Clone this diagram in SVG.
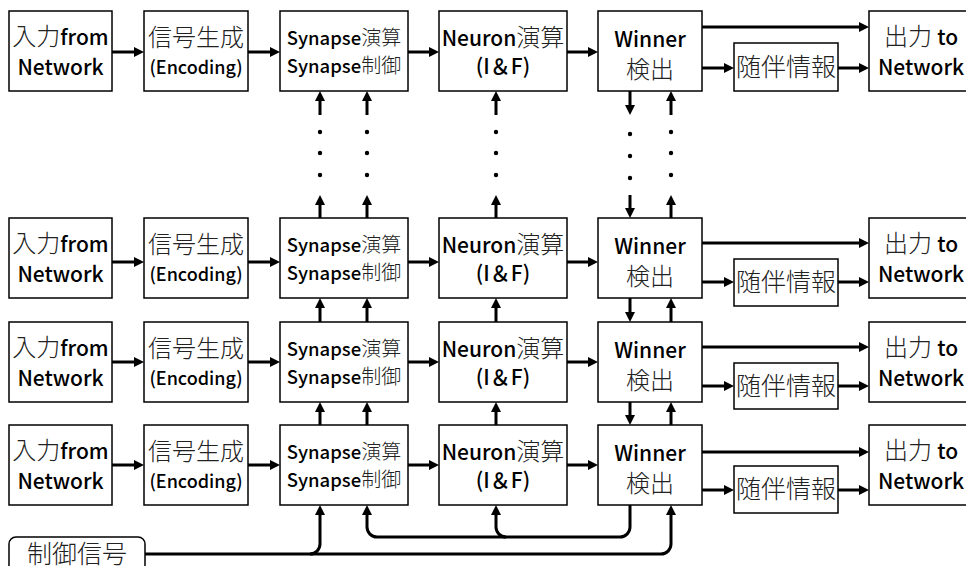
<svg xmlns="http://www.w3.org/2000/svg" width="966" height="566" viewBox="0 0 966 566">
  <defs>
    <marker id="ah" markerUnits="userSpaceOnUse" markerWidth="10" markerHeight="10" refX="3" refY="5" orient="auto">
      <path d="M0,0 L10,5 L0,10 z" fill="#000"/>
    </marker>
    <style>
      .box { fill: #fff; stroke: #000; stroke-width: 1.5; }
      .ln { fill: none; stroke: #000; stroke-width: 3; marker-end: url(#ah); }
      text { font-family: "Noto Sans CJK JP", "Noto Sans", sans-serif; text-anchor: middle; fill: #000; }
      .lat { font-weight: 500; }
      .cjk { font-weight: 300; fill: #222; }
      .syn { font-size: 18.5px; }
      .synj { font-size: 20px; }
      .dot { fill: #000; }
    </style>
  </defs>
  <rect width="966" height="566" fill="#fff"/>

  <!-- row 1 -->
  <g id="r1-input"><rect class="box" x="9" y="11" width="103" height="80"/>
    <text x="60.5" y="45"><tspan class="cjk" font-size="24">入力</tspan><tspan class="lat" font-size="21">from</tspan></text>
    <text x="60.5" y="75" class="lat" font-size="21">Network</text></g>
  <g id="r1-encode"><rect class="box" x="144" y="11" width="104" height="80"/>
    <text x="196" y="46" class="cjk" font-size="24">信号生成</text>
    <text x="196" y="74" class="lat" font-size="18">(Encoding)</text></g>
  <g id="r1-synapse"><rect class="box" x="280" y="11" width="128" height="80"/>
    <text x="344" y="45"><tspan class="lat syn">Synapse</tspan><tspan class="cjk synj">演算</tspan></text>
    <text x="344" y="72.5"><tspan class="lat syn">Synapse</tspan><tspan class="cjk synj">制御</tspan></text></g>
  <g id="r1-neuron"><rect class="box" x="439" y="11" width="128" height="80"/>
    <text x="503" y="46"><tspan class="lat" font-size="21">Neuron</tspan><tspan class="cjk" font-size="24">演算</tspan></text>
    <text x="503" y="74" class="lat" font-size="21">(I＆F)</text></g>
  <g id="r1-winner"><rect class="box" x="598" y="11" width="104" height="80"/>
    <text x="650" y="47" class="lat" font-size="21">Winner</text>
    <text x="650" y="78" class="cjk" font-size="24">検出</text></g>
  <g id="r1-aux"><rect class="box" x="734" y="43" width="104" height="48"/>
    <text x="786" y="76" class="cjk" font-size="25">随伴情報</text></g>
  <g id="r1-output"><rect class="box" x="869" y="11" width="106" height="80"/>
    <text x="921" y="45"><tspan class="cjk" font-size="24">出力 </tspan><tspan class="lat" font-size="21">to</tspan></text>
    <text x="921" y="75" class="lat" font-size="21">Network</text></g>

  <!-- row 2 -->
  <g id="r2-input"><rect class="box" x="9" y="218" width="103" height="80"/>
    <text x="60.5" y="252"><tspan class="cjk" font-size="24">入力</tspan><tspan class="lat" font-size="21">from</tspan></text>
    <text x="60.5" y="282" class="lat" font-size="21">Network</text></g>
  <g id="r2-encode"><rect class="box" x="144" y="218" width="104" height="80"/>
    <text x="196" y="253" class="cjk" font-size="24">信号生成</text>
    <text x="196" y="281" class="lat" font-size="18">(Encoding)</text></g>
  <g id="r2-synapse"><rect class="box" x="280" y="218" width="128" height="80"/>
    <text x="344" y="252"><tspan class="lat syn">Synapse</tspan><tspan class="cjk synj">演算</tspan></text>
    <text x="344" y="279.5"><tspan class="lat syn">Synapse</tspan><tspan class="cjk synj">制御</tspan></text></g>
  <g id="r2-neuron"><rect class="box" x="439" y="218" width="128" height="80"/>
    <text x="503" y="253"><tspan class="lat" font-size="21">Neuron</tspan><tspan class="cjk" font-size="24">演算</tspan></text>
    <text x="503" y="281" class="lat" font-size="21">(I＆F)</text></g>
  <g id="r2-winner"><rect class="box" x="598" y="218" width="104" height="80"/>
    <text x="650" y="254" class="lat" font-size="21">Winner</text>
    <text x="650" y="285" class="cjk" font-size="24">検出</text></g>
  <g id="r2-aux"><rect class="box" x="734" y="259" width="104" height="47"/>
    <text x="786" y="291" class="cjk" font-size="25">随伴情報</text></g>
  <g id="r2-output"><rect class="box" x="869" y="218" width="106" height="80"/>
    <text x="921" y="252"><tspan class="cjk" font-size="24">出力 </tspan><tspan class="lat" font-size="21">to</tspan></text>
    <text x="921" y="282" class="lat" font-size="21">Network</text></g>

  <!-- row 3 -->
  <g id="r3-input"><rect class="box" x="9" y="322" width="103" height="80"/>
    <text x="60.5" y="356"><tspan class="cjk" font-size="24">入力</tspan><tspan class="lat" font-size="21">from</tspan></text>
    <text x="60.5" y="386" class="lat" font-size="21">Network</text></g>
  <g id="r3-encode"><rect class="box" x="144" y="322" width="104" height="80"/>
    <text x="196" y="357" class="cjk" font-size="24">信号生成</text>
    <text x="196" y="385" class="lat" font-size="18">(Encoding)</text></g>
  <g id="r3-synapse"><rect class="box" x="280" y="322" width="128" height="80"/>
    <text x="344" y="356"><tspan class="lat syn">Synapse</tspan><tspan class="cjk synj">演算</tspan></text>
    <text x="344" y="383.5"><tspan class="lat syn">Synapse</tspan><tspan class="cjk synj">制御</tspan></text></g>
  <g id="r3-neuron"><rect class="box" x="439" y="322" width="128" height="80"/>
    <text x="503" y="357"><tspan class="lat" font-size="21">Neuron</tspan><tspan class="cjk" font-size="24">演算</tspan></text>
    <text x="503" y="385" class="lat" font-size="21">(I＆F)</text></g>
  <g id="r3-winner"><rect class="box" x="598" y="322" width="104" height="80"/>
    <text x="650" y="358" class="lat" font-size="21">Winner</text>
    <text x="650" y="389" class="cjk" font-size="24">検出</text></g>
  <g id="r3-aux"><rect class="box" x="734" y="363" width="104" height="46"/>
    <text x="786" y="395" class="cjk" font-size="25">随伴情報</text></g>
  <g id="r3-output"><rect class="box" x="869" y="322" width="106" height="80"/>
    <text x="921" y="356"><tspan class="cjk" font-size="24">出力 </tspan><tspan class="lat" font-size="21">to</tspan></text>
    <text x="921" y="386" class="lat" font-size="21">Network</text></g>

  <!-- row 4 -->
  <g id="r4-input"><rect class="box" x="9" y="425" width="103" height="80"/>
    <text x="60.5" y="459"><tspan class="cjk" font-size="24">入力</tspan><tspan class="lat" font-size="21">from</tspan></text>
    <text x="60.5" y="489" class="lat" font-size="21">Network</text></g>
  <g id="r4-encode"><rect class="box" x="144" y="425" width="104" height="80"/>
    <text x="196" y="460" class="cjk" font-size="24">信号生成</text>
    <text x="196" y="488" class="lat" font-size="18">(Encoding)</text></g>
  <g id="r4-synapse"><rect class="box" x="280" y="425" width="128" height="80"/>
    <text x="344" y="459"><tspan class="lat syn">Synapse</tspan><tspan class="cjk synj">演算</tspan></text>
    <text x="344" y="486.5"><tspan class="lat syn">Synapse</tspan><tspan class="cjk synj">制御</tspan></text></g>
  <g id="r4-neuron"><rect class="box" x="439" y="425" width="128" height="80"/>
    <text x="503" y="460"><tspan class="lat" font-size="21">Neuron</tspan><tspan class="cjk" font-size="24">演算</tspan></text>
    <text x="503" y="488" class="lat" font-size="21">(I＆F)</text></g>
  <g id="r4-winner"><rect class="box" x="598" y="425" width="104" height="80"/>
    <text x="650" y="461" class="lat" font-size="21">Winner</text>
    <text x="650" y="492" class="cjk" font-size="24">検出</text></g>
  <g id="r4-aux"><rect class="box" x="734" y="466" width="104" height="47"/>
    <text x="786" y="498" class="cjk" font-size="25">随伴情報</text></g>
  <g id="r4-output"><rect class="box" x="869" y="425" width="106" height="80"/>
    <text x="921" y="459"><tspan class="cjk" font-size="24">出力 </tspan><tspan class="lat" font-size="21">to</tspan></text>
    <text x="921" y="489" class="lat" font-size="21">Network</text></g>

  <!-- control signal source (runs off the bottom edge) -->
  <g id="control"><rect class="box" x="9" y="537" width="136" height="50" rx="7"/>
    <text x="77" y="563" class="cjk" font-size="25">制御信号</text></g>

  <g id="connectors">
    <!-- horizontal data flow, row 1 -->
    <path class="ln" d="M112 52 H137"/><path class="ln" d="M248 52 H273"/>
    <path class="ln" d="M408 52 H432"/><path class="ln" d="M567 52 H591"/>
    <path class="ln" d="M702 27 H862"/><path class="ln" d="M702 68 H727"/><path class="ln" d="M838 68 H862"/>
    <!-- row 2 -->
    <path class="ln" d="M112 262 H137"/><path class="ln" d="M248 262 H273"/>
    <path class="ln" d="M408 262 H432"/><path class="ln" d="M567 262 H591"/>
    <path class="ln" d="M702 243 H862"/><path class="ln" d="M702 282 H727"/><path class="ln" d="M838 282 H862"/>
    <!-- row 3 -->
    <path class="ln" d="M112 362 H137"/><path class="ln" d="M248 362 H273"/>
    <path class="ln" d="M408 362 H432"/><path class="ln" d="M567 362 H591"/>
    <path class="ln" d="M702 347 H862"/><path class="ln" d="M702 386 H727"/><path class="ln" d="M838 386 H862"/>
    <!-- row 4 -->
    <path class="ln" d="M112 465 H137"/><path class="ln" d="M248 465 H273"/>
    <path class="ln" d="M408 465 H432"/><path class="ln" d="M567 465 H591"/>
    <path class="ln" d="M702 452 H862"/><path class="ln" d="M702 490 H727"/><path class="ln" d="M838 490 H862"/>

    <!-- vertical links between row 1 and row 2 (elided rows shown as dots) -->
    <path class="ln" d="M320 115 V98"/><path class="ln" d="M367 115 V98"/><path class="ln" d="M496 115 V98"/>
    <path class="ln" d="M671 115 V98"/><path class="ln" d="M630 91 V108"/>
    <path class="ln" d="M320 218 V202"/><path class="ln" d="M367 218 V202"/><path class="ln" d="M496 218 V202"/>
    <path class="ln" d="M671 218 V202"/><path class="ln" d="M630 195 V211"/>
    <g class="dot">
      <circle cx="320" cy="132" r="2.2"/><circle cx="320" cy="153" r="2.2"/><circle cx="320" cy="175" r="2.2"/>
      <circle cx="367" cy="132" r="2.2"/><circle cx="367" cy="153" r="2.2"/><circle cx="367" cy="175" r="2.2"/>
      <circle cx="496" cy="132" r="2.2"/><circle cx="496" cy="153" r="2.2"/><circle cx="496" cy="175" r="2.2"/>
      <circle cx="630" cy="134" r="2.2"/><circle cx="630" cy="156" r="2.2"/><circle cx="630" cy="178" r="2.2"/>
      <circle cx="671" cy="132" r="2.2"/><circle cx="671" cy="153" r="2.2"/><circle cx="671" cy="175" r="2.2"/>
    </g>

    <!-- row 3 to row 2 -->
    <path class="ln" d="M320 322 V305"/><path class="ln" d="M367 322 V305"/><path class="ln" d="M496 322 V305"/>
    <path class="ln" d="M671 322 V305"/><path class="ln" d="M630 298 V315"/>
    <!-- row 4 to row 3 -->
    <path class="ln" d="M320 425 V409"/><path class="ln" d="M367 425 V409"/><path class="ln" d="M496 425 V409"/>
    <path class="ln" d="M671 425 V409"/><path class="ln" d="M630 402 V418"/>

    <!-- control signal bus -->
    <path class="ln" d="M145 554 H661 A10 10 0 0 0 671 544 V512"/>
    <path class="ln" d="M310 554 A10 10 0 0 0 320 544 V512"/>
    <!-- winner feedback bus -->
    <path class="ln" d="M630 505 V527 A10 10 0 0 1 620 537 H377 A10 10 0 0 1 367 527 V512"/>
    <path class="ln" d="M506 537 A10 10 0 0 1 496 527 V512"/>
  </g>
</svg>
